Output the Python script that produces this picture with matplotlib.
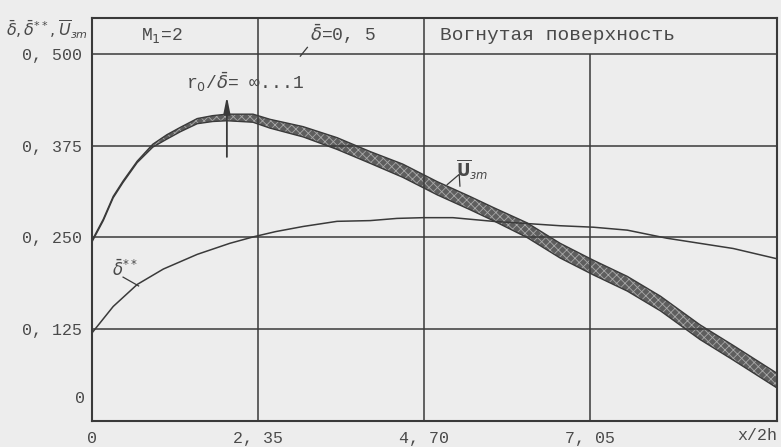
import matplotlib.pyplot as plt

plt.rcParams['font.family'] = ['Liberation Mono', 'DejaVu Sans Mono']
plt.rcParams['mathtext.fontset'] = 'dejavusans'
plt.rcParams['hatch.linewidth'] = 0.6

# band of U_m curves (r0/delta = inf ... 1)
x_um = [0, 0.16, 0.30, 0.44, 0.64, 0.86, 1.06, 1.25, 1.49, 1.71, 1.91, 2.10, 2.28,
        2.52, 2.99, 3.47, 3.94, 4.40, 4.89, 5.35, 5.68, 6.16, 6.63, 7.10, 7.58,
        8.05, 8.61, 9.08, 9.70]
um_upper = [0.246, 0.275, 0.306, 0.327, 0.354, 0.377, 0.390, 0.400, 0.412, 0.416,
            0.418, 0.418, 0.418, 0.411, 0.401, 0.386, 0.367, 0.350, 0.326, 0.306,
            0.291, 0.270, 0.242, 0.219, 0.197, 0.170, 0.131, 0.103, 0.065]
um_lower = [0.244, 0.273, 0.304, 0.325, 0.352, 0.373, 0.384, 0.394, 0.405, 0.408,
            0.409, 0.408, 0.407, 0.399, 0.387, 0.370, 0.351, 0.332, 0.308, 0.288,
            0.273, 0.250, 0.222, 0.199, 0.177, 0.150, 0.111, 0.083, 0.045]

# delta** curve
x_ds = [0, 0.30, 0.64, 1.01, 1.49, 1.95, 2.29, 2.60, 2.99, 3.47, 3.94, 4.32, 4.69,
        5.11, 5.68, 6.16, 6.63, 7.10, 7.58, 8.14, 8.61, 9.08, 9.70]
delta_ss = [0.120, 0.156, 0.186, 0.207, 0.227, 0.242, 0.251, 0.258, 0.265, 0.272,
            0.273, 0.276, 0.277, 0.277, 0.272, 0.269, 0.266, 0.264, 0.260, 0.249,
            0.242, 0.235, 0.221]

x_ticks = [0, 2.35, 4.70, 7.05]
x_tick_labels = ['0', '2, 35', '4, 70', '7, 05']
y_ticks = [0.125, 0.25, 0.375, 0.5]
y_tick_labels = ['0, 125', '0, 250', '0, 375', '0, 500']

bg = '#ededed'
ink = '#3a3a3a'
txt = '#4a4a4a'

fig = plt.figure(figsize=(7.81, 4.47), dpi=100, facecolor=bg)
ax = fig.add_axes([92 / 781, 1 - 421 / 447, (777 - 92) / 781, (421 - 18) / 447])
ax.set_facecolor(bg)
ax.set_xlim(0, 9.7)
ax.set_ylim(0, 0.549)

# grid: header row above 0.5, 7.05 line stops at 0.5
for y in y_ticks:
    ax.axhline(y, color=ink, lw=1.1)
ax.axvline(2.35, color=ink, lw=1.1)
ax.axvline(4.70, color=ink, lw=1.1)
ax.vlines(7.05, 0, 0.5, color=ink, lw=1.1)
for s in ax.spines.values():
    s.set_color(ink)
    s.set_linewidth(1.5)

ax.set_xticks(x_ticks, x_tick_labels)
ax.set_yticks(y_ticks, y_tick_labels)
ax.tick_params(length=0, pad=7, labelsize=12, labelcolor=txt)
ax.text(-0.01, 0.031, '0', transform=ax.get_yaxis_transform(), ha='right',
        va='center', fontsize=12, color=txt)
ax.text(9.7, -0.018, 'x/2h', transform=ax.get_xaxis_transform(), ha='right',
        va='top', fontsize=12, color=txt)

# curves
ax.fill_between(x_um, um_lower, um_upper, facecolor='#5e5e5e', edgecolor='#a8a8a8',
                hatch='xxxx', lw=0)
ax.plot(x_um, um_upper, color=ink, lw=1.0)
ax.plot(x_um, um_lower, color=ink, lw=1.0)
ax.plot(x_ds, delta_ss, color=ink, lw=1.1)

# header texts
ax.text(0.99, 0.525, r'M$_1$=2', ha='center', va='center', fontsize=13, color=txt)
ax.text(3.55, 0.527, r'$\bar{\delta}$=0, 5', ha='center', va='center', fontsize=13,
        color=txt)
ax.plot([2.95, 3.05], [0.497, 0.509], color=ink, lw=0.9)
ax.text(4.93, 0.525, 'Вогнутая поверхность', ha='left', va='center', fontsize=14,
        color=txt)

# annotations inside the plot
ax.text(2.17, 0.462, r'r$_0$/$\bar{\delta}$= ∞...1', ha='center', va='center',
        fontsize=13, color=txt)
ax.annotate('', xy=(1.91, 0.446), xytext=(1.91, 0.356),
            arrowprops=dict(arrowstyle='-|>,head_width=0.2,head_length=1.0',
                            color=ink, lw=1.3))
ax.text(5.38, 0.342, r'$\overline{\mathbf{U}}_{зm}$', ha='center', va='center',
        fontsize=12, color=txt)
ax.plot([5.03, 5.20, 5.21], [0.322, 0.336, 0.320], color=ink, lw=0.9)
ax.text(0.47, 0.208, r'$\bar{\delta}^{**}$', ha='center', va='center', fontsize=12,
        color=txt)
ax.plot([0.44, 0.66], [0.196, 0.184], color=ink, lw=0.9)

fig.text(88 / 781, 1 - 30 / 447, r'$\bar{\delta},\bar{\delta}^{**},\overline{U}_{зm}$',
         ha='right', va='center', fontsize=11.5, color=txt)

fig.savefig('out.png', dpi=100, facecolor=bg)
